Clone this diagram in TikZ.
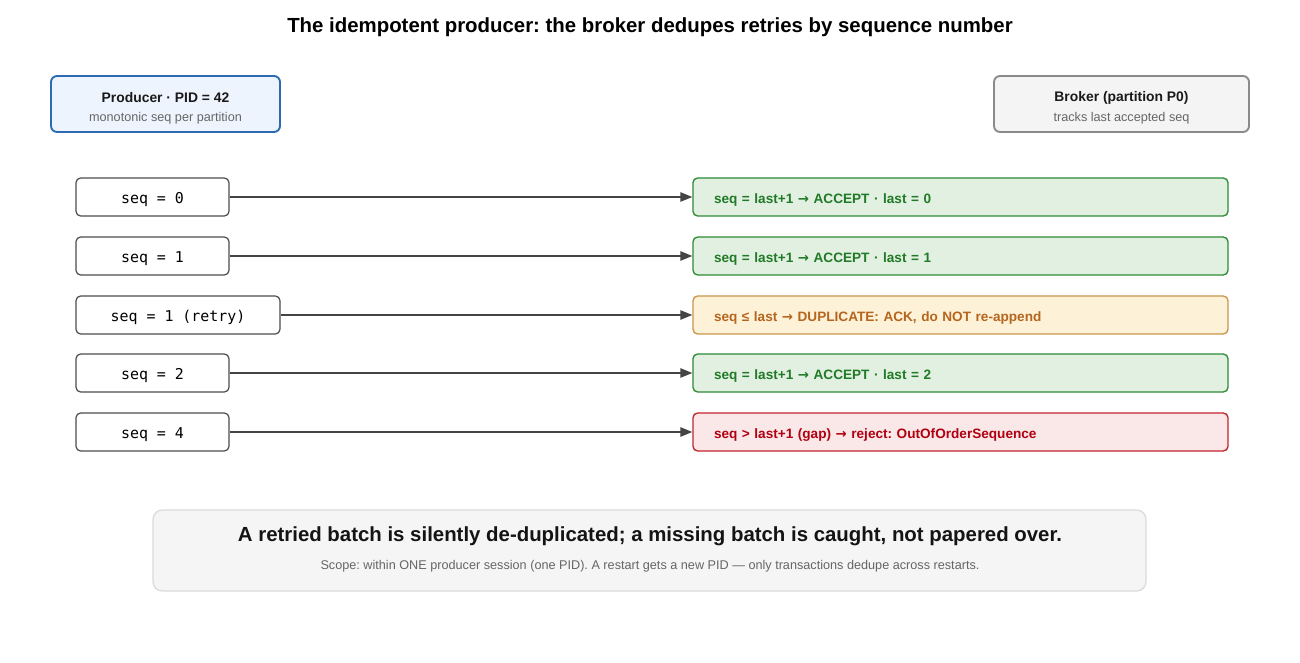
\documentclass[tikz,border=0pt]{standalone}
\usepackage{fontspec}
\setmainfont{Liberation Sans}
\setsansfont{Liberation Sans}
\setmonofont{DejaVu Sans Mono}
\newfontfamily\symfont{DejaVu Sans}
\newcommand{\rarr}{{\symfont\fontsize{10}{12}\selectfont →}}
\frenchspacing
\usetikzlibrary{arrows.meta}
\definecolor{pfill}{HTML}{EEF4FE}
\definecolor{pdraw}{HTML}{2E6AB0}
\definecolor{bfill}{HTML}{F4F4F4}
\definecolor{bdraw}{HTML}{8A8A8A}
\definecolor{gfill}{HTML}{E1F0E1}
\definecolor{gdraw}{HTML}{2E8B36}
\definecolor{gtext}{HTML}{217A27}
\definecolor{ofill}{HTML}{FDF2D8}
\definecolor{odraw}{HTML}{C9954C}
\definecolor{otext}{HTML}{B5651D}
\definecolor{rfill}{HTML}{FAE7E7}
\definecolor{rdraw}{HTML}{C2242E}
\definecolor{rtext}{HTML}{B00012}
\definecolor{subgray}{HTML}{666666}
\definecolor{arrowc}{HTML}{444444}
\definecolor{notefill}{HTML}{F5F5F5}
\definecolor{notedraw}{HTML}{DADADA}
\tikzset{
  hdrbox/.style={draw, line width=1.4pt, rounded corners=4.5pt, minimum height=42pt},
  hdrtitle/.style={font=\fontsize{10.4}{12}\selectfont\bfseries, text=black!90},
  hdrsub/.style={font=\fontsize{9.5}{11}\selectfont, text=subgray},
  seqbox/.style={draw=black!70, line width=0.9pt, fill=white, rounded corners=3.5pt, minimum height=28.5pt, minimum width=114.75pt, text height=10pt, text depth=0pt, font=\ttfamily\fontsize{11.2}{12}\selectfont},
  resbox/.style={line width=1pt, rounded corners=3.5pt, minimum height=28.5pt, text width=369.75pt, inner xsep=15.75pt, text height=10pt, text depth=0pt, align=left, font=\fontsize{10.2}{12}\selectfont\bfseries},
  okres/.style={resbox, draw=gdraw, fill=gfill, text=gtext},
  dupres/.style={resbox, draw=odraw, fill=ofill, text=otext},
  badres/.style={resbox, draw=rdraw, fill=rfill, text=rtext},
  flow/.style={draw=arrowc, line width=1.1pt, -{Triangle[length=9pt,width=7pt]}},
}
\begin{document}
\begin{tikzpicture}[x=0.75pt,y=-0.75pt]
\useasboundingbox[fill=white] (0,0) rectangle (1300,663);
\node[font=\fontsize{15.3}{17}\selectfont\bfseries] (title) at (650,27) {The idempotent producer: the broker dedupes retries by sequence number};

\node[hdrbox, draw=pdraw, fill=pfill, minimum width=171.75pt] (prod) at (165.5,104) {};
\node[hdrtitle] (prodt) at (165.5,97.5) {Producer · PID = 42};
\node[hdrsub] (prods) at (165.5,118) {monotonic seq per partition};

\node[hdrbox, draw=bdraw, fill=bfill, minimum width=191.25pt] (brok) at (1121.5,104) {};
\node[hdrtitle] (brokt) at (1121.5,97.5) {Broker (partition P0)};
\node[hdrsub] (broks) at (1121.5,118) {tracks last accepted seq};

\node[seqbox] (l0) at (152.5,197) {seq = 0};
\node[seqbox] (l1) at (152.5,256) {seq = 1};
\node[seqbox, minimum width=153pt] (l2) at (178,315) {seq = 1 (retry)};
\node[seqbox] (l3) at (152.5,373) {seq = 2};
\node[seqbox] (l4) at (152.5,432) {seq = 4};

\node[okres] (r0) at (960.5,197) {seq = last+1 \rarr{} ACCEPT · last = 0};
\node[okres] (r1) at (960.5,256) {seq = last+1 \rarr{} ACCEPT · last = 1};
\node[dupres] (r2) at (960.5,315) {seq ≤ last \rarr{} DUPLICATE: ACK, do NOT re-append};
\node[okres] (r3) at (960.5,373) {seq = last+1 \rarr{} ACCEPT · last = 2};
\node[badres] (r4) at (960.5,432) {seq > last+1 (gap) \rarr{} reject: OutOfOrderSequence};

\foreach \i in {0,...,4} {\draw[flow] (l\i.east) -- (r\i.west);}

\node[draw=notedraw, line width=0.9pt, fill=notefill, rounded corners=7pt, minimum width=744.75pt, minimum height=60.75pt] (note) at (649.5,550.5) {};
\node[font=\fontsize{15.3}{18}\selectfont\bfseries, text=black!92] (notet) at (650,536) {A retried batch is silently de-duplicated; a missing batch is caught, not papered over.};
\node[font=\fontsize{9.5}{11}\selectfont, text=subgray] (notes) at (650,566) {Scope: within ONE producer session (one PID). A restart gets a new PID — only transactions dedupe across restarts.};
\end{tikzpicture}
\end{document}
